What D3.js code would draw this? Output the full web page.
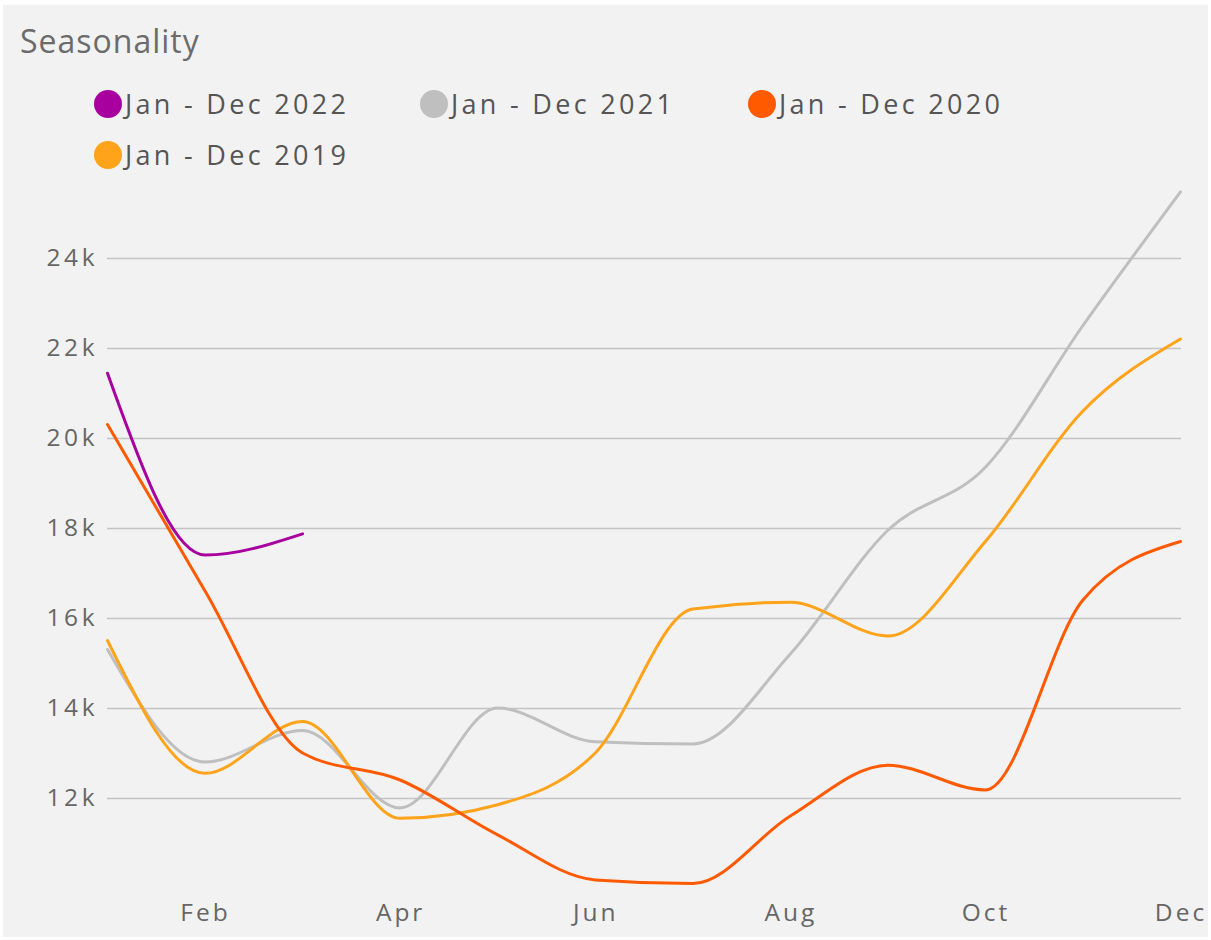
<!DOCTYPE html>
<html><head><meta charset="utf-8">
<script src="https://cdn.jsdelivr.net/npm/d3@7"></script>
<style>
body{margin:0;background:#fff;}
svg{display:block;}
</style></head><body>
<svg id="c" width="1211" height="940"></svg>
<script>
const months = ["Jan","Feb","Mar","Apr","May","Jun","Jul","Aug","Sep","Oct","Nov","Dec"];
const xTickLabels = ["Feb","Apr","Jun","Aug","Oct","Dec"];
const yTicks = [12000,14000,16000,18000,20000,22000,24000];
const seriesNames = ["Jan - Dec 2022","Jan - Dec 2021","Jan - Dec 2020","Jan - Dec 2019"];
const seriesColors = ["#a8009f","#bfbfbf","#ff5a00","#ffa31a"];
const values2022 = [21440,17400,17870];
const values2021 = [15300,12800,13500,11780,14000,13250,13200,15200,17950,19350,22500,25470];
const values2020 = [20300,16600,13000,12400,11180,10180,10100,11600,12730,12180,16400,17700];
const values2019 = [15500,12550,13700,11550,11850,13000,16200,16350,15600,17700,20600,22200];
const seriesValues = [values2022,values2021,values2020,values2019];

const svg = d3.select("#c");
svg.append("rect").attr("x",3).attr("y",5).attr("width",1205).attr("height",932).attr("fill","#f2f2f2");

svg.append("text").attr("x",20).attr("y",53).text("Seasonality")
  .attr("font-family","'Open Sans', sans-serif").attr("font-size",32).attr("letter-spacing",1).attr("fill","#6b6b6b");

const x = d3.scalePoint().domain(months).range([107.5,1180.5]);
const y = d3.scaleLinear().domain([10000,26000]).range([888,168]);

// legend
const legendPos = [[108,104],[434,104],[762,104],[108,155]];
seriesNames.forEach((n,i)=>{
  const g = svg.append("g").attr("transform",`translate(${legendPos[i][0]},${legendPos[i][1]})`);
  g.append("circle").attr("r",14).attr("fill",seriesColors[i]);
  g.append("text").attr("x",17).attr("y",10).text(n)
   .attr("font-family","'Open Sans', sans-serif").attr("font-size",27).attr("letter-spacing",3.3).attr("fill","#555");
});

// grid
svg.append("g").selectAll("line").data(yTicks).join("line")
  .attr("x1",107).attr("x2",1181).attr("y1",d=>Math.round(y(d))+0.5).attr("y2",d=>Math.round(y(d))+0.5)
  .attr("stroke","#c4c4c4").attr("stroke-width",1.5);

const yAxis = d3.axisLeft(y).tickValues(yTicks).tickFormat(d=>d/1000+"k").tickSize(0).tickPadding(9);
const yg = svg.append("g").attr("transform","translate(107,0)").call(yAxis);
yg.select(".domain").remove();
yg.selectAll("text").attr("font-family","'Open Sans', sans-serif").attr("font-size",24.5).attr("fill","#666").attr("letter-spacing",3.5);

const xAxis = d3.axisBottom(x).tickValues(xTickLabels).tickSize(0).tickPadding(16);
const xg = svg.append("g").attr("transform","translate(0,888)").call(xAxis);
xg.select(".domain").remove();
xg.selectAll("text").attr("font-family","'Open Sans', sans-serif").attr("font-size",24.5).attr("fill","#666").attr("letter-spacing",3);

const line = d3.line().x((d,i)=>x(months[i])).y(d=>y(d)).curve(d3.curveMonotoneX);
const order = [1,3,2,0];
order.forEach(i=>{
  svg.append("path").attr("d",line(seriesValues[i])).attr("fill","none")
    .attr("stroke",seriesColors[i]).attr("stroke-width",3).attr("stroke-linejoin","round").attr("stroke-linecap","round");
});
</script>
</body></html>
